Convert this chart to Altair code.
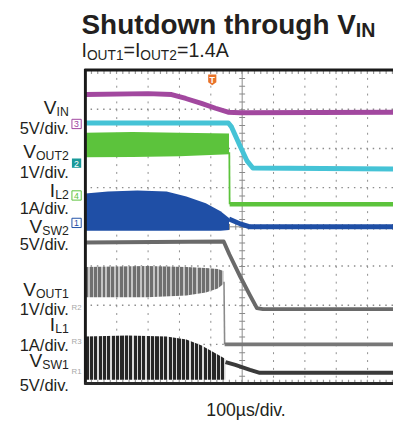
import altair as alt
import pandas as pd

# ---------------- data (time in µs from the left edge of the screen, 100 µs/div;
# levels in screen divisions, 8 divisions high) ----------------
VIN_T = [0, 200, 275, 320, 370, 415, 455, 495, 981]
VIN_V = [7.375, 7.4, 7.375, 7.275, 7.15, 7.025, 6.925, 6.91, 6.925]

CYAN_T = [0, 456, 466, 494, 516, 534, 981]
CYAN_V = [6.65, 6.65, 6.55, 6.05, 5.675, 5.5, 5.475]

VOUT2_BAND_T = [0, 150, 300, 458]
VOUT2_BAND_HI = [6.4, 6.42, 6.4, 6.38]
VOUT2_BAND_LO = [5.775, 5.78, 5.8, 5.85]
VOUT2_DROP_T = [459, 460]
VOUT2_DROP_V = [5.9, 4.575]
VOUT2_T = [460, 981]
VOUT2_V = [4.575, 4.575]

IL2_BAND_T = [0, 72, 166, 259, 322, 384, 431, 458]
IL2_BAND_HI = [4.85, 4.9, 4.925, 4.9, 4.775, 4.6, 4.4, 4.225]
IL2_BAND_LO = [3.9, 3.9, 3.9, 3.9, 3.9, 3.9, 3.9, 3.92]
IL2_T = [458, 494, 525, 981]
IL2_V = [4.2, 4.075, 4.0, 4.0]

VSW2_T = [0, 441, 459, 494, 525, 547, 566, 981]
VSW2_V = [3.6, 3.625, 3.3, 2.725, 2.25, 1.925, 1.9, 1.9]

VOUT1_BAND_T = [0, 197, 322, 384, 422, 441]
VOUT1_BAND_HI = [2.975, 3.0, 2.975, 2.95, 2.925, 2.875]
VOUT1_BAND_LO = [2.2, 2.2, 2.25, 2.325, 2.425, 2.55]
VOUT1_DROP_T = [442, 444]
VOUT1_DROP_V = [2.6, 1.0]
VOUT1_T = [444, 981]
VOUT1_V = [1.0, 1.0]

VSW1_BAND_T = [0, 134, 259, 322, 369, 409, 447]
VSW1_BAND_HI = [1.2, 1.225, 1.2, 1.125, 0.975, 0.8, 0.625]
VSW1_BAND_LO = [0.1, 0.1, 0.1, 0.1, 0.1, 0.1, 0.1]
VSW1_T = [447, 478, 525, 556, 981]
VSW1_V = [0.55, 0.475, 0.35, 0.275, 0.275]

GRID_T = [100, 200, 300, 400, 600, 700, 800, 900]
GRID_V = [1, 2, 3, 5, 6, 7]

W, H = 314, 320
XS = alt.Scale(domain=[0, 981], nice=False, zero=False)
YS = alt.Scale(domain=[0, 8], nice=False, zero=False)
FONT = "Liberation Sans"
INK = "#231f20"


def X(f="t"):
    return alt.X(f"{f}:Q", scale=XS, axis=None)


def Y(f="v"):
    return alt.Y(f"{f}:Q", scale=YS, axis=None)


def line(t, v, color, width):
    df = pd.DataFrame({"t": t, "v": v, "i": range(len(t))})
    return alt.Chart(df).mark_line(color=color, strokeWidth=width, strokeJoin="round").encode(
        x=X(), y=Y(), order="i:Q")


def stripes(dark, light, n, duty):
    # hard-edged vertical stripe texture (style only)
    stops = []
    for i in range(n):
        a, b, c = i / n, (i + duty) / n, (i + 1) / n
        stops += [alt.GradientStop(color=dark, offset=a), alt.GradientStop(color=dark, offset=b),
                  alt.GradientStop(color=light, offset=b), alt.GradientStop(color=light, offset=c)]
    return alt.LinearGradient(gradient="linear", stops=stops, x1=0, x2=1, y1=0, y2=0)


def band(t, hi, lo, fill):
    df = pd.DataFrame({"t": t, "hi": hi, "lo": lo})
    return alt.Chart(df).mark_area(fill=fill, opacity=1).encode(
        x=X(), y=Y("hi"), y2="lo:Q")


def txt(s, x, y, size, color=INK, weight="normal", align="left", baseline="alphabetic"):
    return alt.Chart(pd.DataFrame({"s": [s]})).mark_text(
        font=FONT, fontSize=size, fontWeight=weight, align=align, baseline=baseline, color=color
    ).encode(text="s:N", x=alt.value(x), y=alt.value(y))


layers = []

# grid
layers.append(alt.Chart(pd.DataFrame({"t": GRID_T})).mark_rule(
    color="#8c8c8c", strokeWidth=1, strokeDash=[2, 6]).encode(x=X()))
layers.append(alt.Chart(pd.DataFrame({"v": GRID_V})).mark_rule(
    color="#8c8c8c", strokeWidth=1.5, strokeDash=[1.5, 4.9]).encode(y=Y()))
# centre cross with ticks
layers.append(alt.Chart(pd.DataFrame({"t": [500]})).mark_rule(
    color="#8a8a8a", strokeWidth=1).encode(x=X()))
layers.append(alt.Chart(pd.DataFrame({"t": [500]})).mark_rule(
    color="#8a8a8a", strokeWidth=6, strokeDash=[1, 7]).encode(x=X()))
layers.append(alt.Chart(pd.DataFrame({"v": [4]})).mark_rule(
    color="#8a8a8a", strokeWidth=1).encode(y=Y()))
layers.append(alt.Chart(pd.DataFrame({"v": [4]})).mark_rule(
    color="#8a8a8a", strokeWidth=6, strokeDash=[1, 5.4]).encode(y=Y()))
# minor ticks along top and bottom border
layers.append(alt.Chart(pd.DataFrame({"v": [7.95, 0.05]})).mark_rule(
    color="#9a9a9a", strokeWidth=4, strokeDash=[1.2, 5.2]).encode(y=Y()))

# traces
layers.append(line(VIN_T, VIN_V, "#a2489f", 5))
layers.append(line(CYAN_T, CYAN_V, "#45c3d6", 5))
layers.append(band(VOUT2_BAND_T, VOUT2_BAND_HI, VOUT2_BAND_LO, "#5cc33c"))
layers.append(line(VOUT2_DROP_T, VOUT2_DROP_V, "#5cc33c", 1.8))
layers.append(line(VOUT2_T, VOUT2_V, "#5cc33c", 4.5))
layers.append(band(IL2_BAND_T, IL2_BAND_HI, IL2_BAND_LO, "#1f4fa6"))
layers.append(line(IL2_T, IL2_V, "#1f4fa6", 5))
layers.append(line(VSW2_T, VSW2_V, "#6a6a6a", 4))
layers.append(band(VOUT1_BAND_T, VOUT1_BAND_HI, VOUT1_BAND_LO, stripes("#6f6f6f", "#c4c4c4", 32, 0.65)))
layers.append(line(VOUT1_DROP_T, VOUT1_DROP_V, "#8a8a8a", 1.6))
layers.append(line(VOUT1_T, VOUT1_V, "#777777", 4))
layers.append(band(VSW1_BAND_T, VSW1_BAND_HI, VSW1_BAND_LO, stripes("#262626", "#d8d8d8", 32, 0.72)))
layers.append(line(VSW1_T, VSW1_V, "#3a3a3a", 4))

# frame
frame = alt.Chart(pd.DataFrame({"a": [0]}))
layers.append(frame.mark_rule(color="#1a1a1a", strokeWidth=3).encode(
    x=alt.value(0), y=alt.value(-1), y2=alt.value(H + 1)))
layers.append(frame.mark_rule(color="#1a1a1a", strokeWidth=3).encode(
    x=alt.value(-1), x2=alt.value(W), y=alt.value(0)))
layers.append(frame.mark_rule(color="#2a2a2a", strokeWidth=3).encode(
    x=alt.value(-1), x2=alt.value(W), y=alt.value(H)))

# trigger marker
layers.append(frame.mark_point(
    shape="M-1,-1.3L1,-1.3L1,0.6L0,1.3L-1,0.6Z", filled=True, color="#e8732a", size=70, opacity=1
).encode(x=alt.value(129.5), y=alt.value(10)))
layers.append(txt("T", 129.5, 10, 9, color="white", weight="bold", align="center", baseline="middle"))

# channel markers
for lab, yy, col, filled in [("3", 55, "#a0449f", False), ("2", 95, "#1a9a9a", True),
                             ("4", 128, "#5cc33c", False), ("1", 156, "#1f4fa6", False)]:
    layers.append(frame.mark_point(shape="square", size=90, filled=filled, color=col,
                                   fill=col if filled else "white", strokeWidth=1, opacity=1)
                  .encode(x=alt.value(-9), y=alt.value(yy)))
    layers.append(txt(lab, -9, yy + 0.5, 9, color="white" if filled else col,
                      align="center", baseline="middle"))
for lab, yy in [("R2", 243), ("R3", 278), ("R1", 308)]:
    layers.append(txt(lab, -9, yy, 8, color="#a8a8a8", align="center", baseline="middle"))

# left labels: (main, sub, main baseline, sub baseline, scale text, scale baseline)
R = -17
MAIN, SUB, SCALE = 19.5, 12.5, 16.8
rows = [("V", "IN", 45, 47, "5V/div.", 65),
        ("V", "OUT2", 90, 92, "1V/div.", 110),
        ("I", "L2", 130, 132, "1A/div.", 147),
        ("V", "SW2", 166, 168, "5V/div.", 184),
        ("V", "OUT1", 231, 233, "1V/div.", 250),
        ("I", "L1", 266, 268, "1A/div.", 287),
        ("V", "SW1", 303, 305, "5V/div.", 328)]
SUBW = {"IN": 1.0, "OUT2": 2.667, "OUT1": 2.667, "L2": 1.112, "L1": 1.112, "SW2": 2.167, "SW1": 2.167}
for m, s, yb, ys, sc, yc in rows:
    layers.append(txt(s, R, ys, SUB, align="right"))
    layers.append(txt(m, R - SUBW[s] * SUB, yb, MAIN, align="right"))
    layers.append(txt(sc, R, yc, SCALE, align="right"))

# title
layers.append(txt("Shutdown through V", -4, -37, 28.5, weight="bold"))
layers.append(txt("IN", 276, -34, 20, weight="bold"))
# subtitle
layers.append(txt("I", -4, -13, 20))
layers.append(txt("OUT1", 1.6, -10, 14))
layers.append(txt("=I", 39, -13, 20))
layers.append(txt("OUT2", 56, -10, 14))
layers.append(txt("=1.4A", 93.5, -13, 20))
# time base
layers.append(txt("100µs/div.", 164, 353, 18, align="center"))

chart = alt.layer(*layers).properties(
    width=W, height=H,
    autosize=alt.AutoSizeParams(type="none"),
    padding={"left": 79, "top": 59, "right": 0, "bottom": 41},
).configure_view(stroke=None)

chart.save("out.html", embed_options={"renderer": "svg", "actions": False})
